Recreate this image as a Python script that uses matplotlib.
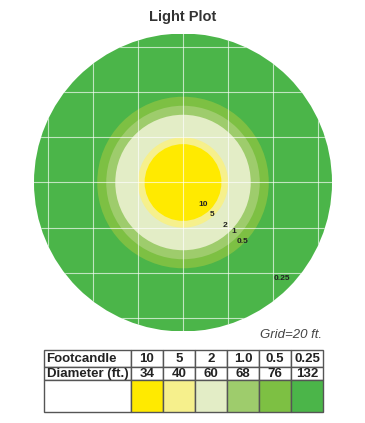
import matplotlib
matplotlib.use("Agg")
import matplotlib.pyplot as plt
from matplotlib.patches import Circle
import numpy as np

# ---- data ----
footcandles = ["10", "5", "2", "1.0", "0.5", "0.25"]
ring_labels = ["10", "5", "2", "1", "0.5", "0.25"]
diameters_ft = [34, 40, 60, 68, 76, 132]
ring_colors = ["#FFEA00", "#F6F08C", "#E3EDC6", "#9ECC6C", "#7DC043", "#4BB549"]
grid_step_ft = 20
row_headers = ["Footcandle", "Diameter (ft.)", ""]

# layout (label positions in ft, relative to centre)
label_pos = [(8.8, -9.7), (12.8, -14.1), (18.8, -18.9), (22.5, -21.9), (26.2, -26.0), (43.6, -42.6)]

W, H = 365, 423
fig = plt.figure(figsize=(W / 100, H / 100), dpi=100)
fig.patch.set_facecolor("white")

R = max(diameters_ft) / 2
cx_px, cy_px, r_px = 183, 182.5, 149
ax = fig.add_axes([(cx_px - r_px) / W, (H - cy_px - r_px) / H, 2 * r_px / W, 2 * r_px / H])
ax.set_xlim(-R, R)
ax.set_ylim(-R, R)
ax.set_aspect("equal")
ax.axis("off")

for d, c in sorted(zip(diameters_ft, ring_colors), key=lambda t: -t[0]):
    ax.add_patch(Circle((0, 0), d / 2, facecolor=c, edgecolor="none", zorder=1))

clip = Circle((0, 0), R, transform=ax.transData, facecolor="none", edgecolor="none")
ax.add_patch(clip)
k = int(R // grid_step_ft)
for i in range(-k, k + 1):
    v = i * grid_step_ft
    l1, = ax.plot([v, v], [-R, R], color="white", lw=0.8, alpha=0.65, zorder=2)
    l2, = ax.plot([-R, R], [v, v], color="white", lw=0.8, alpha=0.65, zorder=2)
    l1.set_clip_path(clip)
    l2.set_clip_path(clip)

for lab, (x, y) in zip(ring_labels, label_pos):
    ax.text(x, y, lab, fontsize=6, fontweight="bold", color="#222222",
            ha="center", va="center", family=["Liberation Sans", "DejaVu Sans"], zorder=3)

fig.text(183 / W, 1 - 17 / H, "Light Plot", fontsize=10.5, fontweight="bold", color="#333333",
         ha="center", va="center", family=["Liberation Sans", "DejaVu Sans"])
fig.text(322 / W, 1 - 335 / H, "Grid=20 ft.", fontsize=9.5, style="italic", color="#444444",
         ha="right", va="center", family=["Liberation Sans", "DejaVu Sans"])

# ---- table ----
tx0, tx1, ty0, ty1 = 44, 323, 350, 412
tax = fig.add_axes([tx0 / W, (H - ty1) / H, (tx1 - tx0) / W, (ty1 - ty0) / H])
tax.axis("off")
cell_text = [[row_headers[0]] + footcandles,
             [row_headers[1]] + [str(d) for d in diameters_ft],
             [row_headers[2]] + [""] * len(footcandles)]
cell_colours = [["white"] * 7, ["white"] * 7, ["white"] + ring_colors]
tbl = tax.table(cellText=cell_text, cellColours=cell_colours, cellLoc="center",
                bbox=[0, 0, 1, 1])
tbl.auto_set_font_size(False)
col_w = [87] + [32] * 6
row_h = [17, 13, 32]
for (r, c), cell in tbl.get_celld().items():
    cell.set_edgecolor("#555555")
    cell.set_linewidth(1.0)
    cell.set_width(col_w[c] / 279)
    cell.set_height(row_h[r] / 62)
    t = cell.get_text()
    t.set_fontsize(9.5)
    t.set_fontweight("bold")
    t.set_color("#222222")
    t.set_family(["Liberation Sans Narrow", "Liberation Sans", "DejaVu Sans"])
    if c == 0:
        cell.set_text_props(ha="left")
        cell._loc = "left"
        cell.PAD = 0.03

fig.savefig("out.png", dpi=100)
